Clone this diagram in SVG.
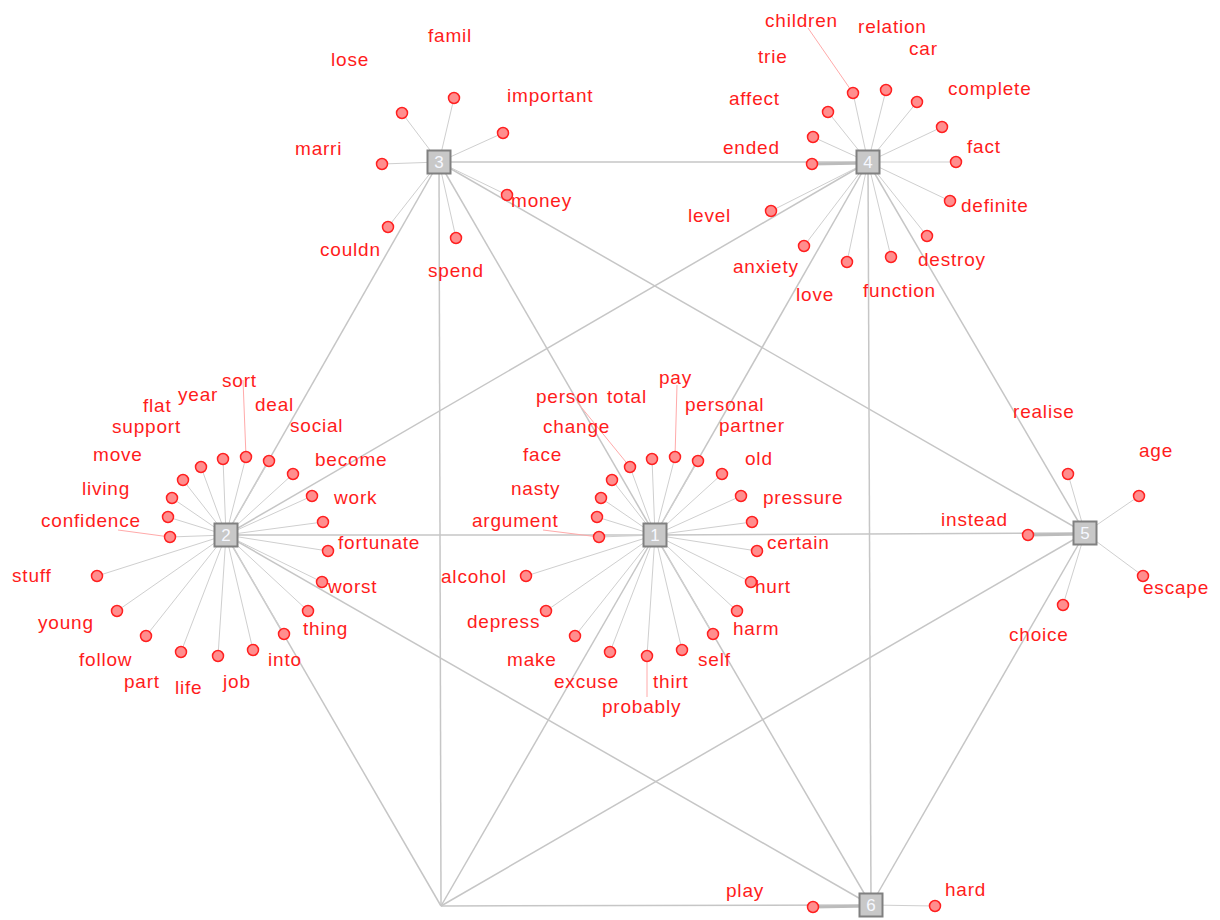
<svg xmlns="http://www.w3.org/2000/svg" width="1220" height="920" viewBox="0 0 1220 920">
<style>
.e{stroke:#c6c6c6;stroke-width:1.5;fill:none}
.l{stroke:#cfcfcf;stroke-width:1;fill:none}
.t{stroke:#bcbcbc;stroke-width:3;fill:none}
.p{stroke:#ffaaaa;stroke-width:1;fill:none}
.c{fill:#ff8e8e;stroke:#ff2020;stroke-width:1.5}
.hb{fill:#c8c8c8;stroke:#808080;stroke-width:2}
.hn{font-family:"Liberation Sans",Arial,sans-serif;font-size:17px;fill:#f6f8ff;text-anchor:middle}
.w{font-family:"Liberation Sans",Arial,sans-serif;font-size:19px;letter-spacing:0.8px;fill:#ff1c1c}
</style>
<rect width="1220" height="920" fill="#ffffff"/>
<g id="connectors">
<!-- hub to hub -->
<line class="e" x1="439" y1="162" x2="868" y2="162"/>
<line class="e" x1="439" y1="162" x2="226" y2="535"/>
<line class="e" x1="439" y1="162" x2="655" y2="535"/>
<line class="e" x1="439" y1="162" x2="1085" y2="533"/>
<line class="e" x1="439" y1="162" x2="441" y2="906"/>
<line class="e" x1="868" y1="162" x2="226" y2="535"/>
<line class="e" x1="868" y1="162" x2="655" y2="535"/>
<line class="e" x1="868" y1="162" x2="1085" y2="533"/>
<line class="e" x1="868" y1="162" x2="871" y2="905"/>
<line class="e" x1="226" y1="535" x2="655" y2="535"/>
<line class="e" x1="226" y1="535" x2="871" y2="905"/>
<line class="e" x1="226" y1="535" x2="441" y2="906"/>
<line class="e" x1="655" y1="535" x2="1085" y2="533"/>
<line class="e" x1="655" y1="535" x2="441" y2="906"/>
<line class="e" x1="655" y1="535" x2="871" y2="905"/>
<line class="e" x1="1085" y1="533" x2="441" y2="906"/>
<line class="e" x1="1085" y1="533" x2="871" y2="905"/>
<line class="e" x1="441" y1="906" x2="871" y2="905"/>
<!-- node 3 leaves -->
<line class="l" x1="439" y1="162" x2="402" y2="113"/>
<line class="l" x1="439" y1="162" x2="454" y2="98"/>
<line class="l" x1="439" y1="162" x2="503" y2="133"/>
<line class="l" x1="439" y1="162" x2="382" y2="164"/>
<line class="l" x1="439" y1="162" x2="388" y2="227"/>
<line class="l" x1="439" y1="162" x2="456" y2="238"/>
<line class="l" x1="439" y1="162" x2="507" y2="195"/>
<!-- node 4 leaves -->
<line class="l" x1="868" y1="162" x2="853" y2="93"/>
<line class="l" x1="868" y1="162" x2="886" y2="90"/>
<line class="l" x1="868" y1="162" x2="917" y2="102"/>
<line class="l" x1="868" y1="162" x2="828" y2="112"/>
<line class="l" x1="868" y1="162" x2="942" y2="127"/>
<line class="l" x1="868" y1="162" x2="813" y2="137"/>
<line class="t" x1="868" y1="163" x2="812" y2="164"/>
<line class="l" x1="868" y1="162" x2="956" y2="162"/>
<line class="l" x1="868" y1="162" x2="950" y2="201"/>
<line class="l" x1="868" y1="162" x2="771" y2="211"/>
<line class="l" x1="868" y1="162" x2="927" y2="236"/>
<line class="l" x1="868" y1="162" x2="804" y2="246"/>
<line class="l" x1="868" y1="162" x2="847" y2="262"/>
<line class="l" x1="868" y1="162" x2="891" y2="257"/>
<!-- node 2 leaves -->
<line class="l" x1="226" y1="535" x2="246" y2="457"/>
<line class="l" x1="226" y1="535" x2="223" y2="459"/>
<line class="l" x1="226" y1="535" x2="269" y2="461"/>
<line class="l" x1="226" y1="535" x2="201" y2="467"/>
<line class="l" x1="226" y1="535" x2="293" y2="474"/>
<line class="l" x1="226" y1="535" x2="183" y2="480"/>
<line class="l" x1="226" y1="535" x2="312" y2="496"/>
<line class="l" x1="226" y1="535" x2="172" y2="498"/>
<line class="l" x1="226" y1="535" x2="323" y2="522"/>
<line class="l" x1="226" y1="535" x2="168" y2="517"/>
<line class="l" x1="226" y1="535" x2="170" y2="537"/>
<line class="l" x1="226" y1="535" x2="328" y2="551"/>
<line class="l" x1="226" y1="535" x2="97" y2="576"/>
<line class="l" x1="226" y1="535" x2="322" y2="582"/>
<line class="l" x1="226" y1="535" x2="117" y2="611"/>
<line class="l" x1="226" y1="535" x2="308" y2="611"/>
<line class="l" x1="226" y1="535" x2="146" y2="636"/>
<line class="l" x1="226" y1="535" x2="284" y2="634"/>
<line class="l" x1="226" y1="535" x2="181" y2="652"/>
<line class="l" x1="226" y1="535" x2="218" y2="656"/>
<line class="l" x1="226" y1="535" x2="253" y2="650"/>
<!-- node 1 leaves -->
<line class="l" x1="655" y1="535" x2="675" y2="457"/>
<line class="l" x1="655" y1="535" x2="652" y2="459"/>
<line class="l" x1="655" y1="535" x2="698" y2="461"/>
<line class="l" x1="655" y1="535" x2="630" y2="467"/>
<line class="l" x1="655" y1="535" x2="722" y2="474"/>
<line class="l" x1="655" y1="535" x2="612" y2="480"/>
<line class="l" x1="655" y1="535" x2="741" y2="496"/>
<line class="l" x1="655" y1="535" x2="601" y2="498"/>
<line class="l" x1="655" y1="535" x2="752" y2="522"/>
<line class="l" x1="655" y1="535" x2="597" y2="517"/>
<line class="l" x1="655" y1="535" x2="599" y2="537"/>
<line class="l" x1="655" y1="535" x2="757" y2="551"/>
<line class="l" x1="655" y1="535" x2="526" y2="576"/>
<line class="l" x1="655" y1="535" x2="751" y2="582"/>
<line class="l" x1="655" y1="535" x2="546" y2="611"/>
<line class="l" x1="655" y1="535" x2="737" y2="611"/>
<line class="l" x1="655" y1="535" x2="575" y2="636"/>
<line class="l" x1="655" y1="535" x2="713" y2="634"/>
<line class="l" x1="655" y1="535" x2="610" y2="652"/>
<line class="l" x1="655" y1="535" x2="647" y2="656"/>
<line class="l" x1="655" y1="535" x2="682" y2="650"/>
<!-- node 5 leaves -->
<line class="l" x1="1085" y1="533" x2="1068" y2="474"/>
<line class="l" x1="1085" y1="533" x2="1139" y2="496"/>
<line class="t" x1="1085" y1="534" x2="1028" y2="535"/>
<line class="l" x1="1085" y1="533" x2="1143" y2="576"/>
<line class="l" x1="1085" y1="533" x2="1063" y2="605"/>
<!-- node 6 leaves -->
<line class="t" x1="871" y1="906" x2="813" y2="907"/>
<line class="l" x1="871" y1="905" x2="935" y2="906"/>
</g>
<!-- leaves -->
<g id="leaf-lose"><circle class="c" cx="402" cy="113" r="5.5"/><text class="w" x="331" y="66">lose</text></g>
<g id="leaf-famil"><circle class="c" cx="454" cy="98" r="5.5"/><text class="w" x="428" y="42">famil</text></g>
<g id="leaf-important"><circle class="c" cx="503" cy="133" r="5.5"/><text class="w" x="507" y="102">important</text></g>
<g id="leaf-marri"><circle class="c" cx="382" cy="164" r="5.5"/><text class="w" x="295" y="155">marri</text></g>
<g id="leaf-couldn"><circle class="c" cx="388" cy="227" r="5.5"/><text class="w" x="320" y="256">couldn</text></g>
<g id="leaf-spend"><circle class="c" cx="456" cy="238" r="5.5"/><text class="w" x="428" y="277">spend</text></g>
<g id="leaf-money"><circle class="c" cx="507" cy="195" r="5.5"/><text class="w" x="511" y="207">money</text></g>

<g id="leaf-children"><line class="p" x1="853" y1="93" x2="808" y2="28"/><circle class="c" cx="853" cy="93" r="5.5"/><text class="w" x="765" y="27">children</text></g>
<g id="leaf-relation"><circle class="c" cx="886" cy="90" r="5.5"/><text class="w" x="858" y="33">relation</text></g>
<g id="leaf-car"><circle class="c" cx="917" cy="102" r="5.5"/><text class="w" x="909" y="55">car</text></g>
<g id="leaf-trie"><circle class="c" cx="828" cy="112" r="5.5"/><text class="w" x="758" y="63">trie</text></g>
<g id="leaf-complete"><circle class="c" cx="942" cy="127" r="5.5"/><text class="w" x="948" y="95">complete</text></g>
<g id="leaf-affect"><circle class="c" cx="813" cy="137" r="5.5"/><text class="w" x="729" y="105">affect</text></g>
<g id="leaf-ended"><circle class="c" cx="812" cy="164" r="5.5"/><text class="w" x="723" y="154">ended</text></g>
<g id="leaf-fact"><circle class="c" cx="956" cy="162" r="5.5"/><text class="w" x="967" y="153">fact</text></g>
<g id="leaf-definite"><circle class="c" cx="950" cy="201" r="5.5"/><text class="w" x="961" y="212">definite</text></g>
<g id="leaf-level"><circle class="c" cx="771" cy="211" r="5.5"/><text class="w" x="688" y="222">level</text></g>
<g id="leaf-destroy"><circle class="c" cx="927" cy="236" r="5.5"/><text class="w" x="918" y="266">destroy</text></g>
<g id="leaf-anxiety"><circle class="c" cx="804" cy="246" r="5.5"/><text class="w" x="733" y="273">anxiety</text></g>
<g id="leaf-love"><circle class="c" cx="847" cy="262" r="5.5"/><text class="w" x="796" y="301">love</text></g>
<g id="leaf-function"><circle class="c" cx="891" cy="257" r="5.5"/><text class="w" x="863" y="297">function</text></g>

<g id="leaf-sort"><line class="p" x1="246" y1="457" x2="243" y2="380"/><circle class="c" cx="246" cy="457" r="5.5"/><text class="w" x="222" y="387">sort</text></g>
<g id="leaf-year"><circle class="c" cx="223" cy="459" r="5.5"/><text class="w" x="178" y="401">year</text></g>
<g id="leaf-deal"><circle class="c" cx="269" cy="461" r="5.5"/><text class="w" x="255" y="411">deal</text></g>
<g id="leaf-flat"><circle class="c" cx="201" cy="467" r="5.5"/><text class="w" x="143" y="412">flat</text></g>
<g id="leaf-social"><circle class="c" cx="293" cy="474" r="5.5"/><text class="w" x="290" y="432">social</text></g>
<g id="leaf-support"><circle class="c" cx="183" cy="480" r="5.5"/><text class="w" x="112" y="433">support</text></g>
<g id="leaf-become"><circle class="c" cx="312" cy="496" r="5.5"/><text class="w" x="315" y="466">become</text></g>
<g id="leaf-move"><circle class="c" cx="172" cy="498" r="5.5"/><text class="w" x="93" y="461">move</text></g>
<g id="leaf-work"><circle class="c" cx="323" cy="522" r="5.5"/><text class="w" x="334" y="504">work</text></g>
<g id="leaf-living"><circle class="c" cx="168" cy="517" r="5.5"/><text class="w" x="82" y="495">living</text></g>
<g id="leaf-confidence"><line class="p" x1="170" y1="537" x2="118" y2="530"/><circle class="c" cx="170" cy="537" r="5.5"/><text class="w" x="41" y="527">confidence</text></g>
<g id="leaf-fortunate"><circle class="c" cx="328" cy="551" r="5.5"/><text class="w" x="338" y="549">fortunate</text></g>
<g id="leaf-stuff"><circle class="c" cx="97" cy="576" r="5.5"/><text class="w" x="12" y="582">stuff</text></g>
<g id="leaf-worst"><circle class="c" cx="322" cy="582" r="5.5"/><text class="w" x="328" y="593">worst</text></g>
<g id="leaf-young"><circle class="c" cx="117" cy="611" r="5.5"/><text class="w" x="38" y="629">young</text></g>
<g id="leaf-thing"><circle class="c" cx="308" cy="611" r="5.5"/><text class="w" x="303" y="635">thing</text></g>
<g id="leaf-follow"><circle class="c" cx="146" cy="636" r="5.5"/><text class="w" x="79" y="666">follow</text></g>
<g id="leaf-into"><circle class="c" cx="284" cy="634" r="5.5"/><text class="w" x="268" y="666">into</text></g>
<g id="leaf-part"><circle class="c" cx="181" cy="652" r="5.5"/><text class="w" x="124" y="688">part</text></g>
<g id="leaf-life"><circle class="c" cx="218" cy="656" r="5.5"/><text class="w" x="175" y="694">life</text></g>
<g id="leaf-job"><circle class="c" cx="253" cy="650" r="5.5"/><text class="w" x="223" y="688">job</text></g>

<g id="leaf-pay"><line class="p" x1="675" y1="457" x2="677" y2="385"/><circle class="c" cx="675" cy="457" r="5.5"/><text class="w" x="659" y="384">pay</text></g>
<g id="leaf-total"><circle class="c" cx="652" cy="459" r="5.5"/><text class="w" x="607" y="403">total</text></g>
<g id="leaf-personal"><circle class="c" cx="698" cy="461" r="5.5"/><text class="w" x="685" y="411">personal</text></g>
<g id="leaf-person"><line class="p" x1="630" y1="467" x2="577" y2="402"/><circle class="c" cx="630" cy="467" r="5.5"/><text class="w" x="536" y="403">person</text></g>
<g id="leaf-partner"><circle class="c" cx="722" cy="474" r="5.5"/><text class="w" x="719" y="432">partner</text></g>
<g id="leaf-change"><circle class="c" cx="612" cy="480" r="5.5"/><text class="w" x="543" y="433">change</text></g>
<g id="leaf-old"><circle class="c" cx="741" cy="496" r="5.5"/><text class="w" x="745" y="465">old</text></g>
<g id="leaf-face"><circle class="c" cx="601" cy="498" r="5.5"/><text class="w" x="523" y="461">face</text></g>
<g id="leaf-pressure"><circle class="c" cx="752" cy="522" r="5.5"/><text class="w" x="763" y="504">pressure</text></g>
<g id="leaf-nasty"><circle class="c" cx="597" cy="517" r="5.5"/><text class="w" x="511" y="495">nasty</text></g>
<g id="leaf-argument"><line class="p" x1="599" y1="537" x2="543" y2="530"/><circle class="c" cx="599" cy="537" r="5.5"/><text class="w" x="472" y="527">argument</text></g>
<g id="leaf-certain"><circle class="c" cx="757" cy="551" r="5.5"/><text class="w" x="767" y="549">certain</text></g>
<g id="leaf-alcohol"><circle class="c" cx="526" cy="576" r="5.5"/><text class="w" x="441" y="583">alcohol</text></g>
<g id="leaf-hurt"><circle class="c" cx="751" cy="582" r="5.5"/><text class="w" x="755" y="593">hurt</text></g>
<g id="leaf-depress"><circle class="c" cx="546" cy="611" r="5.5"/><text class="w" x="467" y="628">depress</text></g>
<g id="leaf-harm"><circle class="c" cx="737" cy="611" r="5.5"/><text class="w" x="733" y="635">harm</text></g>
<g id="leaf-make"><circle class="c" cx="575" cy="636" r="5.5"/><text class="w" x="507" y="666">make</text></g>
<g id="leaf-self"><circle class="c" cx="713" cy="634" r="5.5"/><text class="w" x="698" y="666">self</text></g>
<g id="leaf-excuse"><circle class="c" cx="610" cy="652" r="5.5"/><text class="w" x="554" y="688">excuse</text></g>
<g id="leaf-probably"><line class="p" x1="647" y1="656" x2="647" y2="697"/><circle class="c" cx="647" cy="656" r="5.5"/><text class="w" x="602" y="713">probably</text></g>
<g id="leaf-thirt"><circle class="c" cx="682" cy="650" r="5.5"/><text class="w" x="653" y="688">thirt</text></g>

<g id="leaf-realise"><circle class="c" cx="1068" cy="474" r="5.5"/><text class="w" x="1013" y="418">realise</text></g>
<g id="leaf-age"><circle class="c" cx="1139" cy="496" r="5.5"/><text class="w" x="1139" y="457">age</text></g>
<g id="leaf-instead"><circle class="c" cx="1028" cy="535" r="5.5"/><text class="w" x="941" y="526">instead</text></g>
<g id="leaf-escape"><circle class="c" cx="1143" cy="576" r="5.5"/><text class="w" x="1143" y="594">escape</text></g>
<g id="leaf-choice"><circle class="c" cx="1063" cy="605" r="5.5"/><text class="w" x="1009" y="641">choice</text></g>

<g id="leaf-play"><circle class="c" cx="813" cy="907" r="5.5"/><text class="w" x="726" y="897">play</text></g>
<g id="leaf-hard"><circle class="c" cx="935" cy="906" r="5.5"/><text class="w" x="945" y="896">hard</text></g>

<!-- hubs -->
<g id="node-1"><rect class="hb" x="643.5" y="523.5" width="23" height="23"/><text class="hn" x="655" y="541">1</text></g>
<g id="node-2"><rect class="hb" x="214.5" y="523.5" width="23" height="23"/><text class="hn" x="226" y="541">2</text></g>
<g id="node-3"><rect class="hb" x="427.5" y="150.5" width="23" height="23"/><text class="hn" x="439" y="168">3</text></g>
<g id="node-4"><rect class="hb" x="856.5" y="150.5" width="23" height="23"/><text class="hn" x="868" y="168">4</text></g>
<g id="node-5"><rect class="hb" x="1073.5" y="521.5" width="23" height="23"/><text class="hn" x="1085" y="539">5</text></g>
<g id="node-6"><rect class="hb" x="859.5" y="893.5" width="23" height="23"/><text class="hn" x="871" y="911">6</text></g>
</svg>
